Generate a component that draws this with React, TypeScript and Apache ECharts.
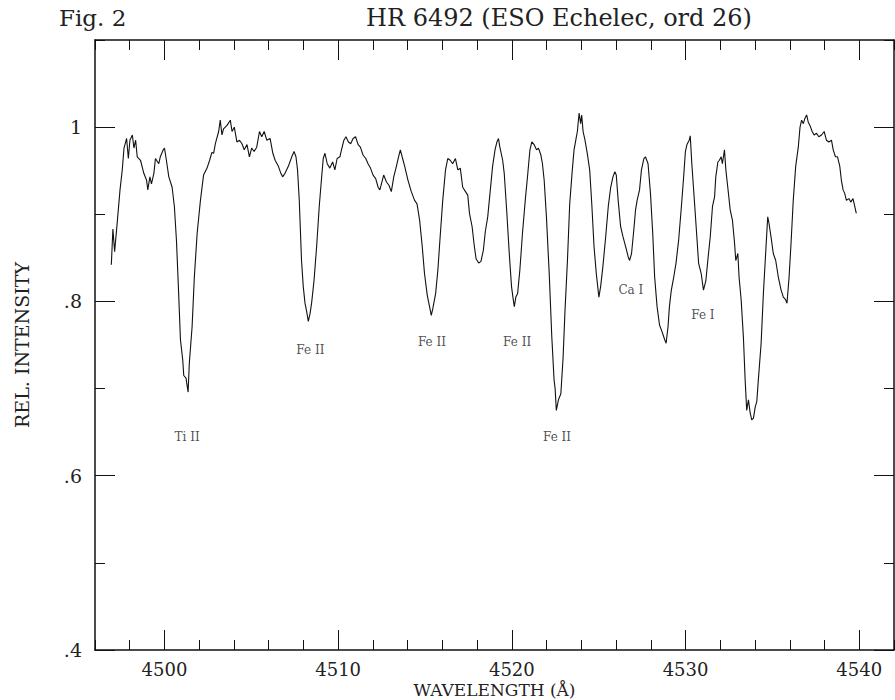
import React, { useEffect, useRef } from "react";
import * as echarts from "echarts";

// Spectrum samples (wavelength in Å, relative intensity)
const wavelength = [
  4496.94, 4497.03, 4497.13, 4497.29, 4497.44, 4497.57, 4497.67, 4497.82, 4497.92, 4498.01,
  4498.15, 4498.24, 4498.34, 4498.43, 4498.62, 4498.81, 4498.97, 4499.04, 4499.16, 4499.25,
  4499.39, 4499.48, 4499.67, 4499.76, 4499.93, 4500.0, 4500.11, 4500.25, 4500.44, 4500.57,
  4500.69, 4500.8, 4500.92, 4501.05, 4501.11, 4501.24, 4501.3, 4501.36, 4501.43, 4501.59,
  4501.72, 4501.88, 4502.07, 4502.25, 4502.45, 4502.6, 4502.73, 4502.83, 4502.93, 4503.12,
  4503.21, 4503.31, 4503.4, 4503.6, 4503.79, 4503.89, 4504.02, 4504.17, 4504.32, 4504.46,
  4504.59, 4504.75, 4504.89, 4505.02, 4505.16, 4505.31, 4505.47, 4505.6, 4505.74, 4505.89,
  4506.08, 4506.24, 4506.37, 4506.56, 4506.7, 4506.8, 4506.94, 4507.13, 4507.33, 4507.46,
  4507.57, 4507.66, 4507.76, 4507.89, 4507.99, 4508.09, 4508.19, 4508.28, 4508.38, 4508.47,
  4508.61, 4508.76, 4508.91, 4509.05, 4509.14, 4509.24, 4509.37, 4509.52, 4509.68, 4509.81,
  4509.94, 4510.1, 4510.19, 4510.33, 4510.45, 4510.59, 4510.72, 4510.86, 4511.0, 4511.15,
  4511.28, 4511.43, 4511.59, 4511.72, 4511.86, 4512.01, 4512.16, 4512.3, 4512.4, 4512.49,
  4512.62, 4512.78, 4512.93, 4513.06, 4513.2, 4513.35, 4513.5, 4513.58, 4513.71, 4513.83,
  4514.02, 4514.21, 4514.4, 4514.54, 4514.69, 4514.84, 4514.97, 4515.13, 4515.26, 4515.36,
  4515.45, 4515.61, 4515.74, 4515.87, 4516.02, 4516.18, 4516.31, 4516.45, 4516.59, 4516.75,
  4516.89, 4517.03, 4517.17, 4517.33, 4517.46, 4517.56, 4517.71, 4517.84, 4517.94, 4518.09,
  4518.22, 4518.36, 4518.47, 4518.61, 4518.74, 4518.89, 4519.03, 4519.14, 4519.23, 4519.3,
  4519.47, 4519.56, 4519.7, 4519.85, 4519.98, 4520.08, 4520.14, 4520.23, 4520.33, 4520.46,
  4520.61, 4520.77, 4520.9, 4521.04, 4521.15, 4521.28, 4521.42, 4521.53, 4521.67, 4521.76,
  4521.86, 4521.99, 4522.15, 4522.3, 4522.43, 4522.49, 4522.56, 4522.68, 4522.82, 4522.95,
  4523.06, 4523.2, 4523.33, 4523.48, 4523.58, 4523.68, 4523.77, 4523.87, 4523.96, 4524.02,
  4524.1, 4524.21, 4524.34, 4524.48, 4524.6, 4524.73, 4524.86, 4525.01, 4525.11, 4525.24,
  4525.4, 4525.55, 4525.69, 4525.82, 4525.93, 4526.01, 4526.12, 4526.26, 4526.4, 4526.55,
  4526.7, 4526.78, 4526.89, 4527.02, 4527.12, 4527.21, 4527.35, 4527.46, 4527.6, 4527.69,
  4527.84, 4527.98, 4528.11, 4528.22, 4528.36, 4528.5, 4528.65, 4528.8, 4528.88, 4528.99,
  4529.07, 4529.18, 4529.32, 4529.45, 4529.6, 4529.76, 4529.89, 4529.99, 4530.08, 4530.21,
  4530.27, 4530.36, 4530.52, 4530.65, 4530.75, 4530.9, 4531.03, 4531.17, 4531.28, 4531.42,
  4531.55, 4531.67, 4531.74, 4531.86, 4531.95, 4532.05, 4532.12, 4532.24, 4532.32, 4532.43,
  4532.57, 4532.7, 4532.82, 4532.89, 4533.01, 4533.08, 4533.2, 4533.33, 4533.43, 4533.52,
  4533.62, 4533.72, 4533.81, 4533.91, 4534.01, 4534.1, 4534.19, 4534.35, 4534.48, 4534.61,
  4534.73, 4534.8, 4534.92, 4535.05, 4535.19, 4535.34, 4535.5, 4535.63, 4535.76, 4535.84,
  4535.96, 4536.07, 4536.2, 4536.34, 4536.49, 4536.59, 4536.68, 4536.78, 4536.87, 4536.97,
  4537.06, 4537.16, 4537.29, 4537.4, 4537.54, 4537.67, 4537.83, 4537.98, 4538.11, 4538.25,
  4538.4, 4538.5, 4538.63, 4538.75, 4538.88, 4538.97, 4539.07, 4539.16, 4539.26, 4539.4,
  4539.51, 4539.64, 4539.74, 4539.83,
];

const intensity = [
  0.842, 0.883, 0.857, 0.893, 0.928, 0.951, 0.976, 0.987, 0.964, 0.985,
  0.991, 0.976, 0.985, 0.966, 0.962, 0.947, 0.939, 0.928, 0.943, 0.935,
  0.947, 0.964, 0.958, 0.966, 0.974, 0.976, 0.962, 0.943, 0.931, 0.909,
  0.87, 0.817, 0.756, 0.733, 0.715, 0.712, 0.704, 0.696, 0.729, 0.771,
  0.828, 0.878, 0.916, 0.945, 0.953, 0.962, 0.971, 0.97, 0.981, 0.995,
  1.008, 0.991, 0.998, 1.002, 1.008, 0.995, 1.0, 0.983, 0.985, 0.981,
  0.974, 0.98, 0.966, 0.976, 0.972, 0.977, 0.995, 0.989, 0.995, 0.985,
  0.987, 0.97, 0.962, 0.955, 0.947, 0.943, 0.947, 0.955, 0.966, 0.972,
  0.966, 0.951, 0.916, 0.847, 0.817, 0.798, 0.788, 0.777, 0.786, 0.798,
  0.824, 0.863, 0.909, 0.943, 0.964, 0.97, 0.958, 0.953, 0.96, 0.951,
  0.964, 0.966, 0.974, 0.985, 0.989, 0.983, 0.981, 0.987, 0.989, 0.98,
  0.977, 0.968, 0.964, 0.958, 0.953, 0.945, 0.941, 0.931, 0.928, 0.935,
  0.945, 0.937, 0.933, 0.926, 0.943, 0.955, 0.968, 0.974, 0.964, 0.955,
  0.939, 0.926, 0.916, 0.912, 0.893, 0.863, 0.832, 0.807, 0.794, 0.784,
  0.792, 0.809, 0.836, 0.874, 0.916, 0.951, 0.964, 0.962, 0.958, 0.964,
  0.951, 0.953, 0.931, 0.926, 0.922, 0.901, 0.886, 0.863, 0.849, 0.844,
  0.846, 0.859, 0.88, 0.897, 0.924, 0.955, 0.974, 0.983, 0.987, 0.978,
  0.962, 0.947, 0.905, 0.855, 0.817, 0.802, 0.794, 0.805, 0.809, 0.836,
  0.878, 0.916, 0.943, 0.974, 0.983, 0.98, 0.974, 0.976, 0.968, 0.958,
  0.939, 0.897, 0.832, 0.759, 0.71, 0.7, 0.675, 0.687, 0.694, 0.736,
  0.79, 0.847, 0.912, 0.951, 0.974, 0.985, 0.995, 1.016, 1.004, 1.014,
  0.995, 0.985, 0.97, 0.951, 0.912, 0.863, 0.832, 0.805, 0.817, 0.84,
  0.874, 0.909, 0.931, 0.943, 0.949, 0.945, 0.916, 0.886, 0.874, 0.863,
  0.851, 0.847, 0.855, 0.882, 0.905, 0.916, 0.928, 0.951, 0.964, 0.966,
  0.958, 0.924, 0.878, 0.828, 0.794, 0.773, 0.765, 0.756, 0.752, 0.771,
  0.794, 0.813, 0.828, 0.844, 0.87, 0.909, 0.943, 0.972, 0.98, 0.985,
  0.99, 0.958, 0.912, 0.874, 0.844, 0.832, 0.813, 0.824, 0.847, 0.874,
  0.909, 0.92, 0.943, 0.96, 0.962, 0.966, 0.958, 0.974, 0.951, 0.931,
  0.905, 0.893, 0.867, 0.847, 0.855, 0.828, 0.802, 0.759, 0.71, 0.675,
  0.687, 0.672, 0.664, 0.666, 0.679, 0.685, 0.71, 0.752, 0.809, 0.855,
  0.897, 0.89, 0.874, 0.855, 0.847, 0.828, 0.813, 0.805, 0.802, 0.798,
  0.828, 0.866, 0.916, 0.955, 0.977, 1.0, 1.008, 1.004, 1.01, 1.014,
  1.006, 1.002, 0.995, 0.991, 0.993, 0.989, 0.991, 0.995, 0.985, 0.983,
  0.985, 0.974, 0.966, 0.966, 0.955, 0.939, 0.928, 0.924, 0.916, 0.918,
  0.914, 0.918, 0.909, 0.901,
];

// Spectral line identifications (label text, wavelength, intensity level of label)
const lineNames = ["Ti II", "Fe II", "Fe II", "Fe II", "Fe II", "Ca I", "Fe I"];
const lineWave = [4501.3, 4508.4, 4515.4, 4520.3, 4522.6, 4526.85, 4531.0];
const lineLevel = [0.644, 0.744, 0.753, 0.753, 0.644, 0.813, 0.784];

// Axis ticks
const xMajorTicks = [4500, 4510, 4520, 4530, 4540];
const xMinorTicks = [
  4496, 4498, 4500, 4502, 4504, 4506, 4508, 4510, 4512, 4514, 4516, 4518,
  4520, 4522, 4524, 4526, 4528, 4530, 4532, 4534, 4536, 4538, 4540, 4542,
];
const yMajorTicks = [0.4, 0.6, 0.8, 1.0];
const yMinorTicks = [0.4, 0.5, 0.6, 0.7, 0.8, 0.9, 1.0, 1.1];

const X_MIN = 4496;
const X_MAX = 4542;
const Y_MIN = 0.4;
const Y_MAX = 1.1;

const FONT = "DejaVu Serif";
const INK = "#111";
const TEXT = "#222";

export default function App() {
  const ref = useRef<HTMLDivElement>(null);

  useEffect(() => {
    document.body.style.margin = "0";
    if (!ref.current) return;
    const chart = echarts.init(ref.current, null, { renderer: "svg" });

    const xAxis = (position: string, minor: boolean, withLabels: boolean, name?: string) => ({
      type: "value",
      position,
      min: X_MIN,
      max: X_MAX,
      interval: 2,
      name: name || undefined,
      nameLocation: "middle",
      nameGap: 31,
      nameMoveOverlap: false,
      nameTextStyle: { fontFamily: FONT, fontSize: 17, color: TEXT },
      axisLine: { show: minor, onZero: false, lineStyle: { color: INK, width: 1.5 } },
      axisTick: {
        show: true,
        inside: true,
        length: minor ? 10 : 20,
        customValues: minor ? xMinorTicks : xMajorTicks,
        lineStyle: { color: INK, width: 1 },
      },
      axisLabel: withLabels
        ? {
            show: true,
            margin: 10,
            fontFamily: FONT,
            fontSize: 18,
            color: TEXT,
            customValues: xMajorTicks,
            formatter: (v: number) => String(Math.round(v)),
          }
        : { show: false },
      splitLine: { show: false },
    });

    const yAxis = (position: string, minor: boolean, withLabels: boolean, name?: string) => ({
      type: "value",
      position,
      min: Y_MIN,
      max: Y_MAX,
      interval: 0.1,
      name: name || undefined,
      nameLocation: "middle",
      nameGap: 64,
      nameMoveOverlap: false,
      nameTextStyle: { fontFamily: FONT, fontSize: 19, color: TEXT },
      axisLine: { show: minor, onZero: false, lineStyle: { color: INK, width: 1.5 } },
      axisTick: {
        show: true,
        inside: true,
        length: minor ? 10 : 20,
        customValues: minor ? yMinorTicks : yMajorTicks,
        lineStyle: { color: INK, width: 1 },
      },
      axisLabel: withLabels
        ? {
            show: true,
            margin: 13,
            fontFamily: FONT,
            fontSize: 19,
            color: TEXT,
            customValues: yMajorTicks,
            formatter: (v: number) => {
              const k = Math.round(v * 10);
              return k === 10 ? "1" : "." + k;
            },
          }
        : { show: false },
      splitLine: { show: false },
    });

    chart.setOption({
      animation: false,
      backgroundColor: "#fff",
      grid: { left: 95, right: 1, top: 40, bottom: 50, containLabel: false, outerBoundsMode: "none" },
      graphic: [
        {
          type: "text",
          left: 59,
          top: 6,
          style: { text: "Fig. 2", fontFamily: FONT, fontSize: 23, fill: TEXT },
        },
        {
          type: "text",
          left: 366,
          top: 6,
          style: { text: "HR 6492 (ESO Echelec, ord 26)", fontFamily: FONT, fontSize: 24, fill: TEXT },
        },
      ],
      xAxis: [
        xAxis("bottom", true, true, "WAVELENGTH (Å)"),
        xAxis("bottom", false, false),
        xAxis("top", true, false),
        xAxis("top", false, false),
      ],
      yAxis: [
        yAxis("left", true, true, "REL. INTENSITY"),
        yAxis("left", false, false),
        yAxis("right", true, false),
        yAxis("right", false, false),
      ],
      series: [
        {
          type: "line",
          xAxisIndex: 0,
          yAxisIndex: 0,
          data: wavelength.map((w, i) => [w, intensity[i]]),
          showSymbol: false,
          symbol: "none",
          lineStyle: { color: INK, width: 1.1 },
          silent: true,
        },
        {
          type: "scatter",
          xAxisIndex: 0,
          yAxisIndex: 0,
          symbolSize: 0,
          data: lineNames.map((n, i) => ({ name: n, value: [lineWave[i], lineLevel[i]] })),
          label: {
            show: true,
            position: "inside",
            formatter: (p: any) => p.name,
            fontFamily: FONT,
            fontSize: 12,
            color: TEXT,
          },
          silent: true,
        },
      ],
    });

    return () => chart.dispose();
  }, []);

  return <div ref={ref} style={{ width: 895, height: 700 }} />;
}
